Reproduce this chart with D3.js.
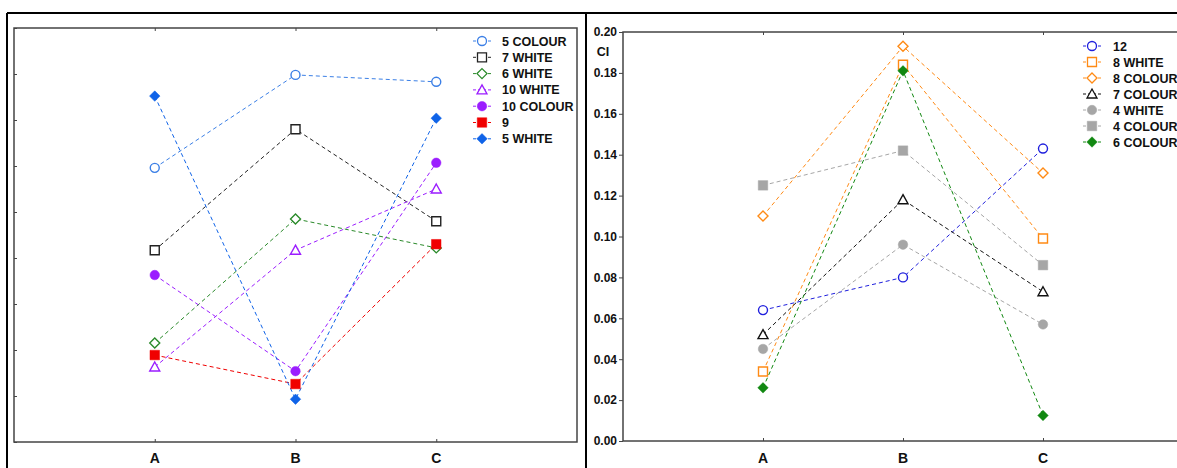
<!DOCTYPE html>
<html>
<head>
<meta charset="utf-8">
<script src="https://cdn.jsdelivr.net/npm/d3@7"></script>
<style>
  body { margin: 0; background: #fff; }
  svg { display: block; font-family: Arial, "Liberation Sans", sans-serif; }
  text { font-weight: bold; fill: #111; }
</style>
</head>
<body>
<script>
// categories shared by both panels
const categories = ["A", "B", "C"]

// left panel (no y labels, unit grid)
const leftNames = ["5 COLOUR", "7 WHITE", "6 WHITE", "10 WHITE", "10 COLOUR", "9", "5 WHITE"]
const left5Colour = [5.96, 7.98, 7.83]
const left7White = [4.17, 6.80, 4.80]
const left6White = [2.15, 4.85, 4.22]
const left10White = [1.63, 4.17, 5.50]
const left10Colour = [3.63, 1.54, 6.07]
const left9 = [1.89, 1.26, 4.30]
const left5White = [7.52, 0.93, 7.04]

// right panel, CI
const rightNames = ["12", "8 WHITE", "8 COLOUR", "7 COLOUR", "4 WHITE", "4 COLOUR", "6 COLOUR"]
const right12 = [0.064, 0.080, 0.143]
const right8White = [0.034, 0.184, 0.099]
const right8Colour = [0.110, 0.193, 0.131]
const right7Colour = [0.052, 0.118, 0.073]
const right4White = [0.045, 0.096, 0.057]
const right4Colour = [0.125, 0.142, 0.086]
const right6Colour = [0.026, 0.181, 0.0125]
const rightTicks = [0, 0.02, 0.04, 0.06, 0.08, 0.10, 0.12, 0.14, 0.16, 0.18, 0.20]

const leftSeries = [
  { name: leftNames[0], values: left5Colour, color: "#3b7fe6", shape: "circle", fill: false },
  { name: leftNames[1], values: left7White, color: "#222", shape: "square", fill: false },
  { name: leftNames[2], values: left6White, color: "#2a8a2a", shape: "diamond", fill: false },
  { name: leftNames[3], values: left10White, color: "#9b1dff", shape: "triangle", fill: false },
  { name: leftNames[4], values: left10Colour, color: "#9b1dff", shape: "circle", fill: true },
  { name: leftNames[5], values: left9, color: "#f00000", shape: "square", fill: true },
  { name: leftNames[6], values: left5White, color: "#0f63e8", shape: "diamond", fill: true }
]

const rightSeries = [
  { name: rightNames[0], values: right12, color: "#1f1fdd", shape: "circle", fill: false },
  { name: rightNames[1], values: right8White, color: "#ff8a14", shape: "square", fill: false },
  { name: rightNames[2], values: right8Colour, color: "#ff8a14", shape: "diamond", fill: false },
  { name: rightNames[3], values: right7Colour, color: "#111", shape: "triangle", fill: false },
  { name: rightNames[4], values: right4White, color: "#a6a6a6", shape: "circle", fill: true },
  { name: rightNames[5], values: right4Colour, color: "#a6a6a6", shape: "square", fill: true },
  { name: rightNames[6], values: right6Colour, color: "#118811", shape: "diamond", fill: true }
]

const width = 1177
const height = 468

const svg = d3.select("body").append("svg")
  .attr("width", width)
  .attr("height", height)

// outer black frames
svg.append("line").attr("x1", 7).attr("x2", width).attr("y1", 13).attr("y2", 13)
  .attr("stroke", "#000").attr("stroke-width", 2)
svg.append("line").attr("x1", 7).attr("x2", 7).attr("y1", 13).attr("y2", height)
  .attr("stroke", "#000").attr("stroke-width", 2)
svg.append("line").attr("x1", 586).attr("x2", 586).attr("y1", 13).attr("y2", height)
  .attr("stroke", "#000").attr("stroke-width", 2)

function markerPath(shape, fill) {
  const s = fill ? 9.5 : 9
  if (shape === "circle") {
    const r = s / 2
    return `M${-r},0A${r},${r} 0 1,0 ${r},0A${r},${r} 0 1,0 ${-r},0Z`
  }
  if (shape === "square") {
    const h = s / 2
    return `M${-h},${-h}H${h}V${h}H${-h}Z`
  }
  if (shape === "diamond") {
    const h = s / 2 + 0.5
    return `M0,${-h}L${h},0L0,${h}L${-h},0Z`
  }
  // triangle
  const h = s / 2 + 0.5
  return `M0,${-h}L${h},${h * 0.8}L${-h},${h * 0.8}Z`
}

function drawPanel(opts) {
  const { x0, x1, y0, y1, domain, series, leg, yTicks, yLabels } = opts
  const g = svg.append("g")

  const x = d3.scalePoint().domain(categories).range([x0, x1]).padding(1)
  const y = d3.scaleLinear().domain(domain).range([y1, y0])

  // plot frame
  g.append("rect")
    .attr("x", x0).attr("y", y0).attr("width", x1 - x0).attr("height", y1 - y0)
    .attr("fill", "none").attr("stroke", "#444").attr("stroke-width", 1.5)

  // y axis
  const yAxis = yLabels
    ? d3.axisLeft(y).tickValues(yTicks).tickSize(4).tickFormat(d3.format(".2f"))
    : d3.axisRight(y).tickValues(yTicks).tickSize(3).tickFormat("")
  const ya = g.append("g").attr("transform", `translate(${x0},0)`).call(yAxis)
  ya.select(".domain").remove()
  ya.selectAll("line").attr("stroke", "#444")
  ya.selectAll("text").attr("font-size", 12).attr("font-weight", "bold")
    .attr("fill", "#111").attr("x", -6)

  // x axis bottom, ticks inward
  const xa = g.append("g").attr("transform", `translate(0,${y1})`)
    .call(d3.axisTop(x).tickSize(3).tickFormat(""))
  xa.select(".domain").remove()
  xa.selectAll("line").attr("stroke", "#444")
  const xt = g.append("g").attr("transform", `translate(0,${y0})`)
    .call(d3.axisBottom(x).tickSize(3).tickFormat(""))
  xt.select(".domain").remove()
  xt.selectAll("line").attr("stroke", "#444")

  g.selectAll(".cat").data(categories).enter().append("text")
    .attr("x", d => x(d)).attr("y", 463)
    .attr("text-anchor", "middle").attr("font-size", 14)
    .text(d => d)

  const line = d3.line().x((d, i) => x(categories[i])).y(d => y(d))

  series.forEach(s => {
    g.append("path").datum(s.values)
      .attr("d", line).attr("fill", "none")
      .attr("stroke", s.color).attr("stroke-width", 1)
      .attr("stroke-dasharray", "4,3")
  })
  series.forEach(s => {
    g.selectAll(null).data(s.values).enter().append("path")
      .attr("transform", (d, i) => `translate(${x(categories[i])},${y(d)})`)
      .attr("d", markerPath(s.shape, s.fill))
      .attr("fill", s.fill ? s.color : "#fff")
      .attr("stroke", s.color).attr("stroke-width", s.fill ? 0.5 : 1.4)
  })

  // legend
  const lg = g.append("g")
  series.forEach((s, i) => {
    const ly = leg.y + i * leg.step
    lg.append("line").attr("x1", leg.x - 9).attr("x2", leg.x + 10)
      .attr("y1", ly).attr("y2", ly)
      .attr("stroke", s.color).attr("stroke-dasharray", "3,2")
    lg.append("path").attr("transform", `translate(${leg.x},${ly})`)
      .attr("d", markerPath(s.shape, s.fill))
      .attr("fill", s.fill ? s.color : "#fff")
      .attr("stroke", s.color).attr("stroke-width", s.fill ? 0.5 : 1.3)
    lg.append("text").attr("x", leg.x + leg.textDx).attr("y", ly + 4.5)
      .attr("font-size", 12.5).text(s.name)
  })
  return g
}

drawPanel({
  x0: 14, x1: 577, y0: 28, y1: 442,
  domain: [0, 9],
  series: leftSeries,
  leg: { x: 482, y: 41, step: 16.3, textDx: 20 },
  yTicks: d3.range(0, 10),
  yLabels: false
})

const right = drawPanel({
  x0: 623, x1: 1183, y0: 32, y1: 441,
  domain: [0, 0.2],
  series: rightSeries,
  leg: { x: 1092, y: 46, step: 16, textDx: 21 },
  yTicks: rightTicks,
  yLabels: true
})

right.append("text").attr("x", 603).attr("y", 56)
  .attr("text-anchor", "middle").attr("font-size", 12.5).text("CI")
</script>
</body>
</html>
